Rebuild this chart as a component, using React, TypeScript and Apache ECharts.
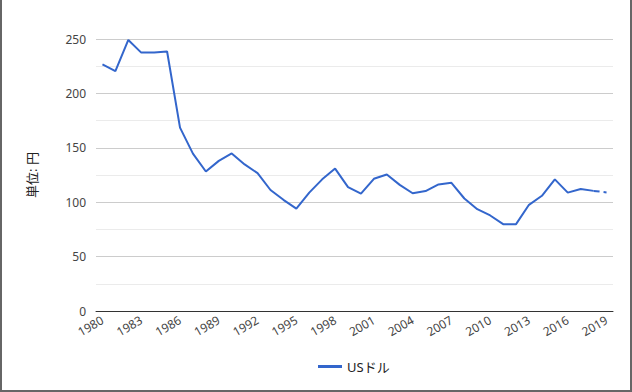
import React, { useEffect, useRef } from "react";
import * as echarts from "echarts";

const years = [
  "1980","1981","1982","1983","1984","1985","1986","1987","1988","1989",
  "1990","1991","1992","1993","1994","1995","1996","1997","1998","1999",
  "2000","2001","2002","2003","2004","2005","2006","2007","2008","2009",
  "2010","2011","2012","2013","2014","2015","2016","2017","2018","2019",
];
const usd = [
  226.7, 220.5, 249.1, 237.5, 237.5, 238.5, 168.5, 144.6, 128.2, 138.0,
  144.8, 134.7, 126.7, 111.2, 102.2, 94.1, 108.8, 121.0, 130.9, 113.9,
  107.8, 121.5, 125.4, 115.9, 108.2, 110.2, 116.3, 117.8, 103.4, 93.6,
  87.8, 79.8, 79.8, 97.6, 105.9, 121.0, 108.8, 112.2, 110.4, 109.0,
];
const seriesName = "USドル";
const yAxisTitle = "単位: 円";

const FONT = "'Noto Sans', 'Noto Sans CJK JP', sans-serif";

export default function App() {
  const ref = useRef<HTMLDivElement>(null);
  useEffect(() => {
    if (!ref.current) return;
    const chart = echarts.init(ref.current, undefined, { renderer: "svg" });
    const n = usd.length;
    const solid = usd.map((v, i) => (i <= n - 2 ? v : null));
    const dashed = usd.map((v, i) => (i >= n - 2 ? v : null));
    chart.setOption({
      animation: false,
      backgroundColor: "#fff",
      textStyle: { fontFamily: FONT },
      grid: { left: 96, right: 19, top: 39, bottom: 81, containLabel: false },
      legend: {
        bottom: 14,
        left: 313,
        data: [seriesName],
        itemWidth: 24,
        itemHeight: 3,
        itemGap: 4,
        icon: "rect",
        textStyle: { fontFamily: FONT, fontSize: 13, color: "#222" },
      },
      xAxis: {
        type: "category",
        data: years,
        boundaryGap: true,
        axisLine: { show: true, lineStyle: { color: "#333", width: 1 } },
        axisTick: { show: false },
        axisLabel: {
          interval: 2,
          rotate: 30,
          fontSize: 12,
          color: "#444",
          margin: 8,
          fontFamily: FONT,
        },
        splitLine: { show: false },
      },
      yAxis: {
        type: "value",
        min: 0,
        max: 250,
        interval: 50,
        name: yAxisTitle,
        nameLocation: "middle",
        nameGap: 58,
        nameRotate: 90,
        nameTextStyle: { fontSize: 13, color: "#222", fontFamily: FONT },
        axisLine: { show: false },
        axisTick: { show: false },
        axisLabel: { fontSize: 12, color: "#444", margin: 10, fontFamily: FONT },
        splitLine: { show: true, lineStyle: { color: "#cccccc", width: 1 } },
        minorTick: { show: false, splitNumber: 2 },
        minorSplitLine: { show: true, lineStyle: { color: "#ebebeb", width: 1 } },
      },
      series: [
        {
          name: seriesName,
          type: "line",
          data: solid,
          showSymbol: false,
          symbol: "none",
          lineStyle: { color: "#3366cc", width: 2 },
          itemStyle: { color: "#3366cc" },
          z: 3,
        },
        {
          name: seriesName + " ",
          type: "line",
          data: dashed,
          showSymbol: false,
          symbol: "none",
          lineStyle: { color: "#3366cc", width: 2, type: [6, 4] },
          itemStyle: { color: "#3366cc" },
          z: 3,
        },
      ],
    });
    return () => chart.dispose();
  }, []);
  return (
    <div style={{ position: "absolute", left: 0, top: 0, width: 632, height: 392 }}>
      <div ref={ref} style={{ position: "absolute", left: 0, top: 0, width: 632, height: 392 }} />
      <div
        style={{
          position: "absolute",
          left: 0,
          top: 0,
          width: 632,
          height: 392,
          boxSizing: "border-box",
          borderLeft: "2px solid #666",
          borderRight: "2px solid #666",
          borderBottom: "2px solid #666",
          pointerEvents: "none",
        }}
      />
    </div>
  );
}
